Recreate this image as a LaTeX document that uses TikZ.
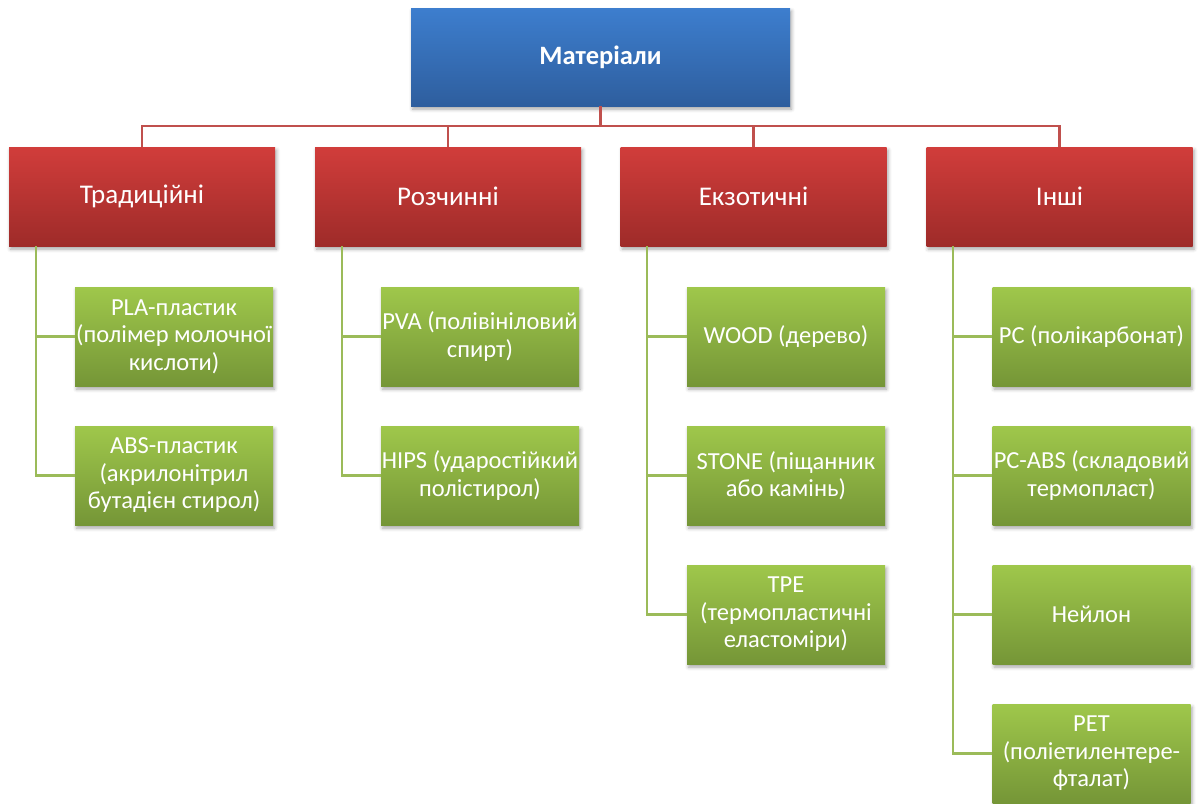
\documentclass[tikz,border=0pt]{standalone}
\usepackage{fontspec}
\setmainfont{Carlito}
\usetikzlibrary{shadows.blur,calc}

\definecolor{blueTop}{RGB}{61,126,206}
\definecolor{blueBot}{RGB}{46,94,158}
\definecolor{redTop}{RGB}{209,61,59}
\definecolor{redBot}{RGB}{158,43,41}
\definecolor{greenTop}{RGB}{159,199,75}
\definecolor{greenBot}{RGB}{117,150,55}
\definecolor{redLine}{RGB}{192,80,77}
\definecolor{greenLine}{RGB}{155,187,89}

\tikzset{
  box/.style={rectangle, inner sep=0pt, align=center, text=white,
    blur shadow={shadow xshift=1.5pt, shadow yshift=-3pt,
                 shadow blur radius=3.5pt, shadow opacity=35}},
  rootbox/.style={box, minimum width=379pt, minimum height=98pt,
    top color=blueTop, bottom color=blueBot,
    font=\fontsize{26.5}{31}\selectfont\bfseries},
  groupbox/.style={box, minimum width=266pt, minimum height=99pt,
    top color=redTop, bottom color=redBot,
    font=\fontsize{27}{32}\selectfont},
  itembox/.style={box, minimum width=198pt, minimum height=99pt,
    top color=greenTop, bottom color=greenBot,
    font=\fontsize{24.5}{27.5}\selectfont},
  redlink/.style={draw=redLine, line width=2.5pt},
  greenlink/.style={draw=greenLine, line width=2.2pt},
}

\begin{document}
\begin{tikzpicture}[x=1pt, y=-1pt]
\useasboundingbox (0,0) rectangle (1198,803);

% root
\node[rootbox] (root) at (600.5,57) {Матеріали};

% groups
\node[groupbox] (g1) at (142,196.5)   {Традиційні};
\node[groupbox] (g2) at (448,196.5)   {Розчинні};
\node[groupbox] (g3) at (753.5,196.5) {Екзотичні};
\node[groupbox] (g4) at (1059.5,196.5){Інші};

% items
\node[itembox] (a1) at (174,336.5) {PLA-пластик\\(полімер молочної\\кислоти)};
\node[itembox] (a2) at (174,475.5) {ABS-пластик\\(акрилонітрил\\бутадієн стирол)};

\node[itembox] (b1) at (480,336.5) {PVA (полівініловий\\спирт)};
\node[itembox] (b2) at (480,475.5) {HIPS (ударостійкий\\полістирол)};

\node[itembox] (c1) at (786,336.5) {WOOD (дерево)};
\node[itembox] (c2) at (786,475.5) {STONE (піщанник\\або камінь)};
\node[itembox] (c3) at (786,614.5) {TPE\\(термопластичні\\еластоміри)};

\node[itembox] (d1) at (1091.5,336.5) {PC (полікарбонат)};
\node[itembox] (d2) at (1091.5,475.5) {PC-ABS (складовий\\термопласт)};
\node[itembox] (d3) at (1091.5,614.5) {Нейлон};
\node[itembox] (d4) at (1091.5,753.5) {PET\\(поліетилентере-\\фталат)};

% root to groups
\coordinate (bus) at (600.5,126);
\foreach \g in {g1,g2,g3,g4}
  \draw[redlink] (root.south) -- (root.south |- bus) -| (\g.north);

% groups to items
\foreach \g/\items in {g1/{a1,a2}, g2/{b1,b2}, g3/{c1,c2,c3}, g4/{d1,d2,d3,d4}}{
  \coordinate (\g-trunk) at ($(\g.south west)+(27,0)$);
  \foreach \i in \items
    \draw[greenlink] (\g-trunk) |- (\i.west);
}
\end{tikzpicture}
\end{document}
